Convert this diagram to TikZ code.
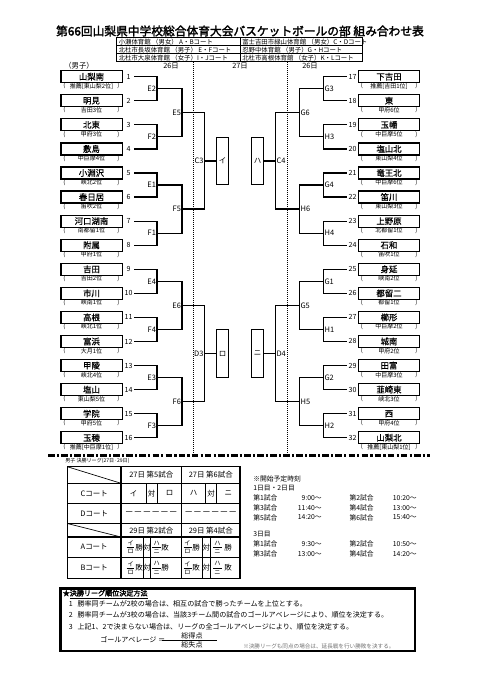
\documentclass[tikz,border=0pt]{standalone}
\usepackage{fontspec}
\setmainfont{Noto Sans CJK JP}
\newfontfamily\jpb[FakeBold=2.2]{Noto Sans CJK JP}
\newfontfamily\jpm[FakeBold=0.6]{Noto Sans CJK JP}
\usetikzlibrary{calc}
\tikzset{
  ln/.style={line width=0.9pt},
  schoolbox/.style={draw, line width=0.9pt, minimum width=45.9pt, minimum height=9pt, inner sep=0pt, font=\jpm\fontsize{6.3}{7}\selectfont},
  sublbl/.style={inner sep=0pt, font=\fontsize{4.5}{5}\selectfont},
  numlbl/.style={inner sep=0pt, font=\fontsize{5.3}{6}\selectfont},
  mlbl/.style={inner sep=0.6pt, font=\fontsize{5.6}{6}\selectfont},
  finbox/.style={draw, line width=0.8pt, minimum width=8.7pt, minimum height=35.7pt, inner sep=0pt, font=\fontsize{5.6}{6}\selectfont},
  vtxt/.style={inner sep=0pt, anchor=west, font=\fontsize{4.8}{5}\selectfont},
  hdr/.style={inner sep=0pt, font=\fontsize{5.5}{6}\selectfont},
  tbl/.style={inner sep=0pt, font=\fontsize{5.6}{6}\selectfont},
  dashrow/.style={inner sep=0pt, font=\fontsize{6.6}{7}\selectfont},
  frc/.style={inner sep=0pt, font=\fontsize{4.6}{5}\selectfont},
  sch/.style={inner sep=0pt, anchor=west, font=\fontsize{5.1}{6}\selectfont},
  schr/.style={inner sep=0pt, anchor=east, font=\fontsize{5.1}{6}\selectfont},
  note/.style={inner sep=0pt, anchor=west, font=\fontsize{5.3}{6}\selectfont},
  thinl/.style={line width=0.5pt},
  midl/.style={line width=0.8pt},
}
\begin{document}
\begin{tikzpicture}[x=0.75pt,y=-0.75pt]
\fill[white] (0,0) rectangle (481,680);
\useasboundingbox (0,0) rectangle (481,680);

% title
\node[inner sep=0pt, font=\jpb\fontsize{8.8}{10}\selectfont] (title) at (240,31) {第66回山梨県中学校総合体育大会バスケットボールの部 組み合わせ表};

% venue table
\draw[thinl] (116.7,37.7) rectangle (362,61.7);
\draw[thinl] (116.7,45.5) -- (362,45.5);
\draw[thinl] (116.7,53.7) -- (362,53.7);
\draw[thinl] (240,37.7) -- (240,61.7);
\node[vtxt] (v1) at (118.5,41.6) {小瀬体育館 （男女） A・Bコート};
\node[vtxt] (v2) at (118.5,49.6) {北杜市長坂体育館 （男子） E・Fコート};
\node[vtxt] (v3) at (118.5,57.7) {北杜市大泉体育館 （女子）I・Jコート};
\node[vtxt] (v4) at (242,41.6) {富士吉田市緑山体育館 （男女）C・Dコート};
\node[vtxt] (v5) at (242,49.6) {忍野中体育館 （男子）G・Hコート};
\node[vtxt] (v6) at (242,57.7) {北杜市高根体育館 （女子）K・Lコート};

% header row
\node[hdr] (hboy) at (79,65.8) {（男子）};
\node[hdr] (hd1) at (171,65.8) {26日};
\node[hdr] (hd2) at (240,65.8) {27日};
\node[hdr] (hd3) at (310,65.8) {26日};

% dotted day separators
\draw[line width=0.5pt, densely dotted] (193.3,62) -- (193.3,455);
\draw[line width=0.5pt, densely dotted] (287.5,62) -- (287.5,455);

% left schools
\foreach \i/\nm/\sub in {1/山梨南/推薦[東山梨2位],2/明見/吉田3位,3/北東/甲府3位,4/敷島/中巨摩4位,5/小淵沢/峡北2位,6/春日居/笛吹2位,7/河口湖南/南都留1位,8/附属/甲府1位,9/吉田/吉田2位,10/市川/峡南1位,11/高根/峡北1位,12/富浜/大月1位,13/甲陵/峡北4位,14/塩山/東山梨5位,15/学院/甲府5位,16/玉穂/推薦[中巨摩1位]}{
  \pgfmathsetmacro\yy{76.7+(\i-1)*24.07}
  \node[schoolbox] (s\i) at (91.5,\yy) {\nm};
  \node[sublbl] (p\i) at (91.5,\yy+9.3) {\sub};
  \node[sublbl] (pa\i) at (64.5,\yy+9.3) {(};
  \node[sublbl] (pb\i) at (118.5,\yy+9.3) {)};
  \node[numlbl] (n\i) at (128.5,\yy) {\i};
  \coordinate (l\i) at (134,\yy);
}
% right schools
\foreach \i/\nm/\sub in {17/下吉田/推薦[吉田1位],18/東/甲府6位,19/玉幡/中巨摩5位,20/塩山北/東山梨4位,21/竜王北/中巨摩6位,22/笛川/東山梨3位,23/上野原/北都留1位,24/石和/笛吹1位,25/身延/峡南2位,26/都留二/都留1位,27/櫛形/中巨摩2位,28/城南/甲府2位,29/田富/中巨摩3位,30/韮崎東/峡北3位,31/西/甲府4位,32/山梨北/推薦[東山梨1位]}{
  \pgfmathsetmacro\yy{76.7+(\i-17)*24.07}
  \node[schoolbox] (s\i) at (389,\yy) {\nm};
  \node[sublbl] (p\i) at (389,\yy+9.3) {\sub};
  \node[sublbl] (pa\i) at (362,\yy+9.3) {(};
  \node[sublbl] (pb\i) at (416.5,\yy+9.3) {)};
  \node[numlbl] (n\i) at (352.5,\yy) {\i};
  \coordinate (l\i) at (346.5,\yy);
}

% left round 1
\foreach \m/\a/\b in {E2/1/2,F2/3/4,E1/5/6,F1/7/8,E4/9/10,F4/11/12,E3/13/14,F3/15/16}{
  \coordinate (\m) at ($(l\a)!0.5!(l\b)+(23,0)$);
  \draw[ln] (l\a) -| (\m) |- (l\b);
  \node[mlbl, anchor=east] (t\m) at (\m) {\m};
}
% right round 1
\foreach \m/\a/\b in {G3/17/18,H3/19/20,G4/21/22,H4/23/24,G1/25/26,H1/27/28,G2/29/30,H2/31/32}{
  \coordinate (\m) at ($(l\a)!0.5!(l\b)+(-23,0)$);
  \draw[ln] (l\a) -| (\m) |- (l\b);
  \node[mlbl, anchor=west] (t\m) at (\m) {\m};
}
% left round 2
\foreach \m/\a/\b in {E5/E2/F2,F5/E1/F1,E6/E4/F4,F6/E3/F3}{
  \coordinate (\m) at ($(\a)!0.5!(\b)+(25,0)$);
  \draw[ln] (\a) -| (\m) |- (\b);
  \node[mlbl, anchor=east] (t\m) at (\m) {\m};
}
% right round 2
\foreach \m/\a/\b in {G6/G3/H3,H6/G4/H4,G5/G1/H1,H5/G2/H2}{
  \coordinate (\m) at ($(\a)!0.5!(\b)+(-24,0)$);
  \draw[ln] (\a) -| (\m) |- (\b);
  \node[mlbl, anchor=west] (t\m) at (\m) {\m};
}
% left round 3
\foreach \m/\a/\b in {C3/E5/F5,D3/E6/F6}{
  \coordinate (\m) at ($(\a)!0.5!(\b)+(22.5,0)$);
  \draw[ln] (\a) -| (\m) |- (\b);
  \node[mlbl, anchor=east] (t\m) at (\m) {\m};
}
% right round 3
\foreach \m/\a/\b in {C4/G6/H6,D4/G5/H5}{
  \coordinate (\m) at ($(\a)!0.5!(\b)+(-24,0)$);
  \draw[ln] (\a) -| (\m) |- (\b);
  \node[mlbl, anchor=west] (t\m) at (\m) {\m};
}
% final league boxes
\node[finbox] (bI) at ($(C3)+(18,0)$) {イ};
\node[finbox] (bRo) at ($(D3)+(18,0)$) {ロ};
\node[finbox] (bHa) at ($(C4)+(-17.8,0)$) {ハ};
\node[finbox] (bNi) at ($(D4)+(-17.8,0)$) {ニ};
\draw[ln] (C3) -- (bI.west);
\draw[ln] (D3) -- (bRo.west);
\draw[ln] (C4) -- (bHa.east);
\draw[ln] (D4) -- (bNi.east);

% dash-dot separator
\draw[line width=1.6pt, dash pattern=on 5pt off 1.6pt on 1.6pt off 1.6pt] (48,455.5) -- (430,455.5);

% league table
\node[inner sep=0pt, anchor=west, font=\fontsize{3.8}{4}\selectfont] (lgcap) at (65,461) {男子 決勝リーグ(27日·29日)};
\draw[midl] (67.3,483.3) -- (240,483.3);
\draw[midl] (67.3,503.3) -- (240,503.3);
\draw[midl] (67.3,523.5) -- (240,523.5);
\draw[midl] (67.3,537) -- (240,537);
\draw[midl] (67.3,557.5) -- (240,557.5);
\draw[midl] (121,466.7) -- (121,578.3);
\draw[midl] (181.3,466.7) -- (181.3,578.3);
\draw[thinl] (67.3,466.7) -- (121,483.3);
\draw[thinl] (67.3,523.5) -- (121,537);
\draw[thinl] (146,483.3) -- (146,503.3);
\draw[thinl] (157.3,483.3) -- (157.3,503.3);
\draw[thinl] (205.7,483.3) -- (205.7,503.3);
\draw[thinl] (216.7,483.3) -- (216.7,503.3);
\foreach \xx in {143.3,150.7,202.7,210}{
  \draw[thinl] (\xx,537) -- (\xx,578.3);
}
\draw[line width=1.1pt] (67.3,466.7) rectangle (240,578.3);

\node[tbl] (h5) at (151.3,475) {27日 第5試合};
\node[tbl] (h6) at (210.8,475) {27日 第6試合};
\node[tbl] (h2) at (151.3,530.3) {29日 第2試合};
\node[tbl] (h4) at (210.8,530.3) {29日 第4試合};
\node[tbl] (cC) at (94.2,493.3) {Cコート};
\node[tbl] (cD) at (94.2,513.4) {Dコート};
\node[tbl] (cA) at (94.2,547.2) {Aコート};
\node[tbl] (cB) at (94.2,567.9) {Bコート};
\node[tbl] (c1) at (133.5,493.3) {イ};
\node[tbl] (c2) at (151.6,493.3) {対};
\node[tbl] (c3) at (169.5,493.3) {ロ};
\node[tbl] (c4) at (193.7,493.3) {ハ};
\node[tbl] (c5) at (211.2,493.3) {対};
\node[tbl] (c6) at (228.3,493.3) {ニ};
\node[dashrow] (d1) at (151.3,513.4) {－－－－－－};
\node[dashrow] (d2) at (210.8,513.4) {－－－－－－};
% A / B rows
\foreach \rw/\yy/\resA/\resB/\resC/\resD in {A/547.2/勝/敗/勝/勝, B/567.9/敗/勝/敗/敗}{
  % game 2 (first block)
  \node[frc] (f\rw 1a) at (130.8,\yy-4.2) {イ};
  \node[frc] (f\rw 1b) at (130.8,\yy+4.3) {ロ};
  \draw[thinl] (126.7,\yy) -- (134.3,\yy);
  \node[tbl] (w\rw 1a) at (139,\yy) {\resA};
  \node[tbl] (v\rw 1) at (147,\yy) {対};
  \node[frc] (g\rw 1a) at (156.7,\yy-4.2) {ハ};
  \node[frc] (g\rw 1b) at (156.7,\yy+4.3) {ニ};
  \draw[thinl] (152.3,\yy) -- (161,\yy);
  \node[tbl] (w\rw 1b) at (165,\yy) {\resB};
  % game 4 (second block)
  \node[frc] (f\rw 2a) at (187.5,\yy-4.2) {イ};
  \node[frc] (f\rw 2b) at (187.5,\yy+4.3) {ロ};
  \draw[thinl] (183.5,\yy) -- (191.5,\yy);
  \node[tbl] (w\rw 2a) at (196,\yy) {\resC};
  \node[tbl] (v\rw 2) at (206.4,\yy) {対};
  \node[frc] (g\rw 2a) at (217.5,\yy-4.2) {ハ};
  \node[frc] (g\rw 2b) at (217.5,\yy+4.3) {ニ};
  \draw[thinl] (213,\yy) -- (222,\yy);
  \node[tbl] (w\rw 2b) at (228,\yy) {\resD};
}

% schedule
\node[sch] (sc0) at (253,479.3) {※開始予定時刻};
\node[sch] (sc1) at (253,488.3) {1日目・2日目};
\node[sch] (sa1) at (253,498) {第1試合};
\node[schr] (ta1) at (322,498) {9:00～};
\node[sch] (sa2) at (349.3,498) {第2試合};
\node[schr] (ta2) at (417,498) {10:20～};
\node[sch] (sa3) at (253,508) {第3試合};
\node[schr] (ta3) at (322,508) {11:40～};
\node[sch] (sa4) at (349.3,508) {第4試合};
\node[schr] (ta4) at (417,508) {13:00～};
\node[sch] (sa5) at (253,517.5) {第5試合};
\node[schr] (ta5) at (322,517.5) {14:20～};
\node[sch] (sa6) at (349.3,517.5) {第6試合};
\node[schr] (ta6) at (417,517.5) {15:40～};
\node[sch] (sc2) at (253,534.3) {3日目};
\node[sch] (sb1) at (253,544.3) {第1試合};
\node[schr] (tb1) at (322,544.3) {9:30～};
\node[sch] (sb2) at (349.3,544.3) {第2試合};
\node[schr] (tb2) at (417,544.3) {10:50～};
\node[sch] (sb3) at (253,554) {第3試合};
\node[schr] (tb3) at (322,554) {13:00～};
\node[sch] (sb4) at (349.3,554) {第4試合};
\node[schr] (tb4) at (417,554) {14:20～};

% ranking rules box
\draw[line width=2.2pt] (60.7,588.3) rectangle (415,651);
\node[note, font=\jpb\fontsize{5.3}{6}\selectfont] (rt) at (62.5,594.5) {★\underline{決勝リーグ順位決定方法}};
\node[note] (r1n) at (68.5,604.3) {1};
\node[note] (r1) at (77.3,604.3) {勝率同チームが2校の場合は、相互の試合で勝ったチームを上位とする。};
\node[note] (r2n) at (68.5,614.5) {2};
\node[note] (r2) at (77.3,614.5) {勝率同チームが3校の場合は、当該3チーム間の試合のゴールアベレージにより、順位を決定する。};
\node[note] (r3n) at (68.5,626.7) {3};
\node[note] (r3) at (77.3,626.7) {上記1、2で決まらない場合は、リーグの全ゴールアベレージにより、順位を決定する。};
\node[note] (ga) at (100,640) {ゴールアベレージ ＝};
\node[inner sep=0pt, font=\fontsize{5.3}{6}\selectfont] (num) at (192,635.5) {総得点};
\node[inner sep=0pt, font=\fontsize{5.3}{6}\selectfont] (den) at (192,645.3) {総失点};
\draw[line width=0.6pt] (161.7,640.3) -- (216.7,640.3);
\node[note, text=black!55, font=\fontsize{4.2}{5}\selectfont] (rn) at (243,646.5) {※決勝リーグも同点の場合は、延長戦を行い勝敗を決する。};
\end{tikzpicture}
\end{document}
